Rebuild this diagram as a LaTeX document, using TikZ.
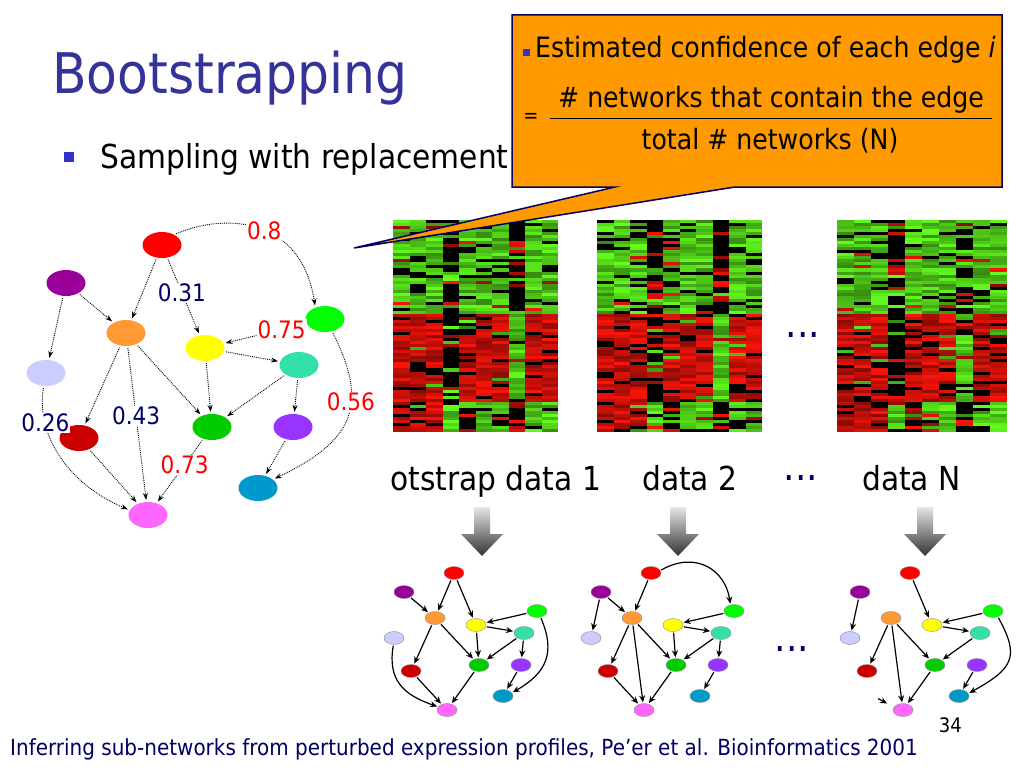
\documentclass[tikz,border=0pt]{standalone}
\usepackage{fontspec}
\setmainfont{DejaVu Sans}[FakeStretch=0.9]
\usetikzlibrary{arrows.meta,shapes.geometric}

\definecolor{titleblue}{RGB}{51,51,153}
\definecolor{bulletblue}{RGB}{51,51,204}
\definecolor{navy}{RGB}{0,0,102}
\definecolor{calloutfill}{RGB}{255,153,0}
\definecolor{hmgreen}{RGB}{100,255,30}
\definecolor{hmred}{RGB}{255,20,10}
\definecolor{cred}{RGB}{255,0,0}
\definecolor{cpurple}{RGB}{153,0,153}
\definecolor{corange}{RGB}{255,153,51}
\definecolor{cyellow}{RGB}{255,255,0}
\definecolor{cbgreen}{RGB}{0,255,0}
\definecolor{clav}{RGB}{204,204,255}
\definecolor{cteal}{RGB}{51,224,170}
\definecolor{cdred}{RGB}{204,0,0}
\definecolor{cgreen}{RGB}{0,204,0}
\definecolor{cviolet}{RGB}{153,51,255}
\definecolor{cpink}{RGB}{255,102,255}
\definecolor{cblue}{RGB}{0,153,204}

\newcommand\fs[1]{\fontsize{#1}{#1}\selectfont}

\tikzset{
  bnode/.style={ellipse, minimum width=39pt, minimum height=26pt, inner sep=0pt},
  snode/.style={ellipse, draw=black!45, line width=0.4pt, minimum width=20pt, minimum height=13pt, inner sep=0pt},
  dedge/.style={densely dotted, line width=0.9pt, -{Stealth[length=7pt,width=5pt]}, shorten >=2pt, shorten <=2pt},
  sedge/.style={line width=1.2pt, -{Stealth[length=7pt,width=6pt]}, shorten >=1pt, shorten <=1pt},
  lbl/.style={fill=white, inner sep=1pt, font=\fs{24}},
  txt/.style={inner sep=0pt, anchor=base west},
  sqbullet/.style={rectangle, inner sep=0pt, minimum size=#1},
  dots/.style={inner sep=0pt, anchor=base, text=navy, font=\fs{40}},
}

% one expression matrix: x, y, seed, cell width
\newcommand\heatmap[4]{%
  \pgfmathsetseed{#3}%
  \foreach \hr in {0,...,69}{%
    \foreach \hc in {0,...,9}{%
      \pgfmathtruncatemacro\band{\hr<31 ? 0 : (\hr<60 ? 1 : 2)}%
      \pgfmathtruncatemacro\bA{{1,1,1,0,1,1,1,0,1,1}[\hc]}%
      \pgfmathtruncatemacro\bB{{2,2,2,0,2,2,2,1,2,2}[\hc]}%
      \pgfmathtruncatemacro\bC{{2,2,2,1,0,1,1,0,1,1}[\hc]}%
      \pgfmathtruncatemacro\base{\band==0 ? \bA : (\band==1 ? \bB : \bC)}%
      \pgfmathsetmacro\p{rnd}%
      \pgfmathtruncatemacro\code{\base==0 ? (\p<0.6 ? 0 : (\p<0.85 ? 2 : 1)) : (\p<0.14 ? 0 : (\p<0.18 ? 3-\base : \base))}%
      \pgfmathtruncatemacro\lev{55+45*rnd}%
      \ifcase\code \def\hmc{black}\or \def\hmc{hmgreen!\lev!black}\or \def\hmc{hmred!\lev!black}\fi
      \fill[fill=\hmc] (#1+\hc*#4, #2+\hr*3.03) rectangle +(#4+0.3,3.3);
    }%
  }%
}

% nodes of one small network: prefix, x shift
\newcommand\smallnet[2]{%
  \node[snode, fill=cred]    (#1red)    at (454+#2,573) {};
  \node[snode, fill=cpurple] (#1purple) at (404+#2,592) {};
  \node[snode, fill=corange] (#1orange) at (435+#2,618) {};
  \node[snode, fill=cyellow] (#1yellow) at (476+#2,625) {};
  \node[snode, fill=cbgreen] (#1bgreen) at (537+#2,611) {};
  \node[snode, fill=clav]    (#1lav)    at (394+#2,638) {};
  \node[snode, fill=cteal]   (#1teal)   at (524+#2,633) {};
  \node[snode, fill=cdred]   (#1dred)   at (411+#2,671) {};
  \node[snode, fill=cgreen]  (#1green)  at (479+#2,665) {};
  \node[snode, fill=cviolet] (#1violet) at (521+#2,665) {};
  \node[snode, fill=cblue]   (#1blue)   at (503+#2,696) {};
  \node[snode, fill=cpink]   (#1pink)   at (447+#2,710) {};
}

\begin{document}
\begin{tikzpicture}[x=1pt,y=-1pt]
			%%%%% START %%%%%
			\fill[white] (0,0) rectangle (1024,768);
			\useasboundingbox (0,0) rectangle (1024,768);
			
			\node[txt, text=titleblue, font=\fs{56}] (title) at (52,93) {Bootstrapping};
			\node[sqbullet=10pt, fill=bulletblue] (bul) at (69,157) {};
			\node[txt, font=\fs{33}] (sampling) at (100,168) {Sampling with replacement};
			
			% big network
			\node[bnode, fill=cred]    (nred)    at (162,245) {};
			\node[bnode, fill=cpurple] (npurple) at (66,283) {};
			\node[bnode, fill=corange] (norange) at (126,333) {};
			\node[bnode, fill=cyellow] (nyellow) at (205,348) {};
			\node[bnode, fill=cbgreen] (nbgreen) at (325,319) {};
			\node[bnode, fill=clav]    (nlav)    at (46,373) {};
			\node[bnode, fill=cteal]   (nteal)   at (299,365) {};
			\node[bnode, fill=cdred]   (ndred)   at (79,438) {};
			\node[bnode, fill=cgreen]  (ngreen)  at (212,427) {};
			\node[bnode, fill=cviolet] (nviolet) at (293,427) {};
			\node[bnode, fill=cpink]   (npink)   at (148,515) {};
			\node[bnode, fill=cblue]   (nblue)   at (258,488) {};
			
			\draw[dedge] (nred) -- (norange);
			\draw[dedge] (nred) -- node[lbl, text=navy, pos=.45] {0.31} (nyellow);
			\draw[dedge] (nred.40) .. controls +(45,-20) and +(-15,-95) .. node[lbl, text=red, pos=.55] {0.8} (nbgreen.130);
			\draw[dedge] (npurple) -- (norange);
			\draw[dedge] (npurple) -- (nlav);
			\draw[dedge] (nbgreen) -- node[lbl, text=red, pos=.3] {0.75} (nyellow);
			\draw[dedge] (nyellow) -- (nteal);
			\draw[dedge] (nyellow) -- (ngreen);
			\draw[dedge] (nteal) -- (ngreen);
			\draw[dedge] (nteal) -- (nviolet);
			\draw[dedge] (norange) -- (ndred);
			\draw[dedge] (norange) -- node[lbl, text=navy, pos=.45] {0.43} (npink);
			\draw[dedge] (norange) -- (ngreen);
			\draw[dedge] (nlav.-100) .. controls +(-8,50) and +(-60,-25) .. node[lbl, text=navy, pos=.25] {0.26} (npink.165);
			\draw[dedge] (ndred) -- (npink);
			\draw[dedge] (ngreen) -- node[lbl, text=red, pos=.4] {0.73} (npink);
			\draw[dedge] (nviolet) -- (nblue);
			\draw[dedge] (nbgreen.-60) .. controls +(35,70) and +(85,-40) .. node[lbl, text=red, pos=.4] {0.56} (nblue.30);
			
			% expression data
			\heatmap{393}{220}{11}{16.5}
			\heatmap{597}{220}{23}{16.5}
			\heatmap{837}{220}{37}{17}
			\node[dots] (dotsA) at (803,337) {...};
			
			% callout
			\filldraw[fill=calloutfill, draw=navy, line width=1.5pt] (512,15) -- (1002,15) -- (1002,187) -- (735,187) -- (354,248) -- (615,187) -- (512,187) -- cycle;
			\node[sqbullet=7pt, fill=bulletblue] (cbul) at (526,53) {};
			\node[txt, font=\fs{28}] (conf) at (535,58) {Estimated confidence of each edge \textit{i}};
			\node[inner sep=0pt, font=\fs{20}] (eq) at (531,118) {=};
			\node[inner sep=0pt, anchor=base, font=\fs{28}] (num) at (771,107) {\# networks that contain the edge};
			\draw[line width=0.8pt] (550,118) -- (992,118);
			\node[inner sep=0pt, anchor=base, font=\fs{28}] (den) at (770,149) {total \# networks (N)};
			
			\node[txt, font=\fs{33}] (lab1) at (390,490) {otstrap data 1};
			\node[txt, font=\fs{33}] (lab2) at (642,490) {data 2};
			\node[dots] (dotsB) at (801,480) {...};
			\node[txt, font=\fs{33}] (labN) at (862,490) {data N};
			
			\foreach \ax in {482,678,925}
				\shade[top color=black!10, bottom color=black!80] (\ax-8,507) -- (\ax+8,507) -- (\ax+8,534) -- (\ax+21,534) -- (\ax,556) -- (\ax-21,534) -- (\ax-8,534) -- cycle;
			
			% networks learned from each sample
			\smallnet{a}{0}
			\smallnet{b}{197}
			\smallnet{c}{456}
			
			\draw[sedge] (ared) -- (aorange);
			\draw[sedge] (ared) -- (ayellow);
			\draw[sedge] (apurple) -- (aorange);
			\draw[sedge] (aorange) -- (adred);
			\draw[sedge] (aorange) -- (agreen);
			\draw[sedge] (ayellow) -- (ateal);
			\draw[sedge] (ayellow) -- (agreen);
			\draw[sedge] (abgreen) -- (ayellow);
			\draw[sedge] (abgreen.-60) .. controls +(15,35) and +(35,-20) .. (ablue.20);
			\draw[sedge] (ateal) -- (agreen);
			\draw[sedge] (ateal) -- (aviolet);
			\draw[sedge] (aviolet) -- (ablue);
			\draw[sedge] (alav.-95) .. controls +(-6,35) and +(-35,-12) .. (apink.160);
			\draw[sedge] (adred) -- (apink);
			\draw[sedge] (agreen) -- (apink);
			
			\draw[sedge] (bred) -- (borange);
			\draw[sedge] (bred.15) .. controls +(35,-20) and +(-5,-35) .. (bbgreen.120);
			\draw[sedge] (bpurple) -- (borange);
			\draw[sedge] (bpurple) -- (blav);
			\draw[sedge] (borange) -- (bdred);
			\draw[sedge] (borange) -- (bpink);
			\draw[sedge] (borange) -- (bgreen);
			\draw[sedge] (byellow) -- (bteal);
			\draw[sedge] (byellow) -- (bgreen);
			\draw[sedge] (bbgreen) -- (byellow);
			\draw[sedge] (bteal) -- (bgreen);
			\draw[sedge] (bteal) -- (bviolet);
			\draw[sedge] (bviolet) -- (bblue);
			\draw[sedge] (bdred) -- (bpink);
			\draw[sedge] (bgreen) -- (bpink);
			
			\draw[sedge] (cred) -- (cyellow);
			\draw[sedge] (cpurple) -- (clav);
			\draw[sedge] (corange) -- (cdred);
			\draw[sedge] (corange) -- (cpink);
			\draw[sedge] (corange) -- (cgreen);
			\draw[sedge] (cyellow) -- (cteal);
			\draw[sedge] (cbgreen) -- (cyellow);
			\draw[sedge] (cbgreen.-50) .. controls +(22,40) and +(45,-25) .. (cblue.15);
			\draw[sedge] (cteal) -- (cgreen);
			\draw[sedge] (cgreen) -- (cpink);
			\draw[sedge] (cviolet) -- (cblue);
			\coordinate (cstubA) at (877,698);
			\coordinate (cstubB) at (888,704);
			\draw[sedge] (cstubA) -- (cstubB);
			\node[dots] (dotsC) at (792,651) {...};
			
			\node[txt, text=navy, font=\fs{22.2}] (footer) at (10,755) {Inferring sub-networks from perturbed expression profiles, Pe’er et al. Bioinformatics 2001};
			\node[inner sep=0pt, anchor=base east, font=\fs{20}] (pageno) at (962,732) {34};
			%%%%% END %%%%%
\end{tikzpicture}
\end{document}
